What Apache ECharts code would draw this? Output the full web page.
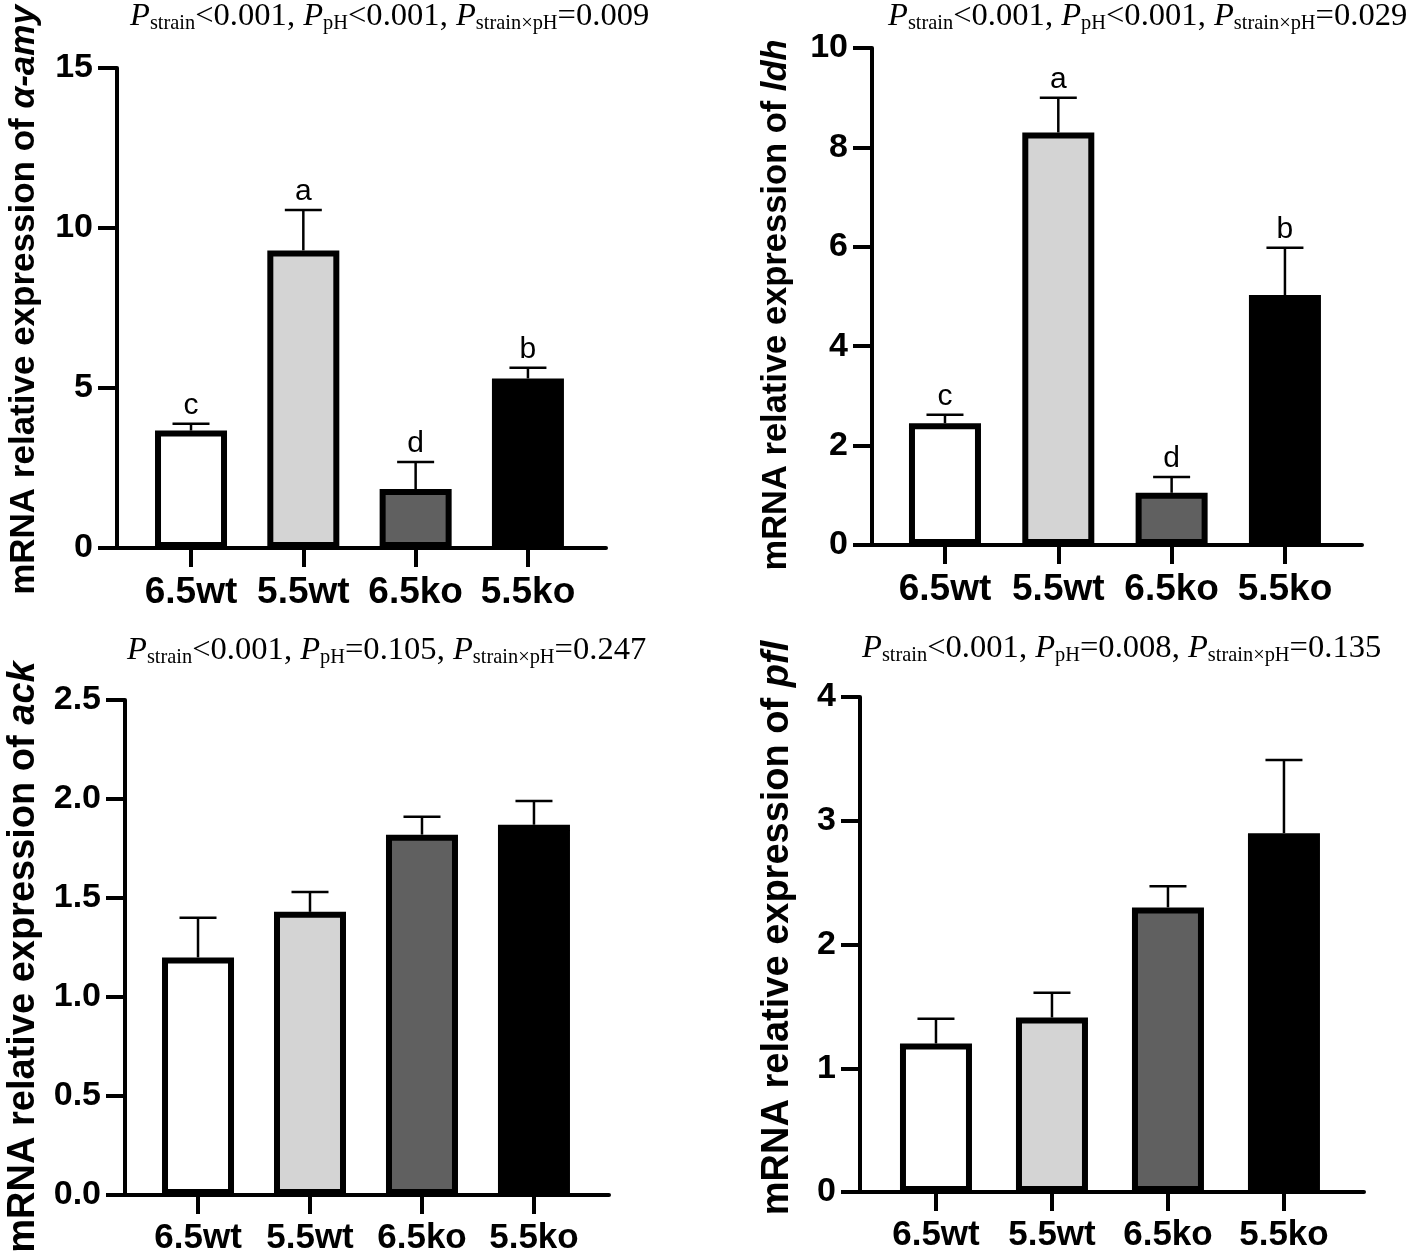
<!DOCTYPE html>
<html><head><meta charset="utf-8">
<script src="https://cdn.jsdelivr.net/npm/echarts@6/dist/echarts.min.js"></script>
<style>html,body{margin:0;padding:0;background:#fff}#c{width:1416px;height:1257px}</style>
</head><body><div id="c"></div>
<script>
// ---- data ----
const categories = ['6.5wt', '5.5wt', '6.5ko', '5.5ko'];
const barColors = ['#ffffff', '#d4d4d4', '#606060', '#000000'];

const amyMean = [3.67, 9.3, 1.84, 5.3];
const amyErr  = [3.88, 10.56, 2.69, 5.63];
const amyLetters = ['c', 'a', 'd', 'b'];

const ldhMean = [2.45, 8.3, 1.05, 5.03];
const ldhErr  = [2.62, 9.00, 1.37, 5.98];
const ldhLetters = ['c', 'a', 'd', 'b'];

const ackMean = [1.20, 1.43, 1.82, 1.87];
const ackErr  = [1.40, 1.53, 1.91, 1.99];

const pflMean = [1.20, 1.41, 2.30, 2.90];
const pflErr  = [1.40, 1.61, 2.47, 3.49];

const genes = ['α-amy', 'ldh', 'ack', 'pfl'];
const pStrain = ['<0.001', '<0.001', '<0.001', '<0.001'];
const pPH = ['<0.001', '<0.001', '=0.105', '=0.008'];
const pInter = ['=0.009', '=0.029', '=0.247', '=0.135'];

const yMax = [15, 10, 2.5, 4];
const yStep = [5, 2, 0.5, 1];

// ---- layout ----
const panels = [
  { mean: amyMean, err: amyErr, letters: amyLetters, grid: { left: 117, top: 68, width: 489, height: 480 },
    xmin: -0.659, xmax: 3.695, tx: 130, ty: 0, nx: 24, ny: 300, nfs: 35, xfs: 37, dec: 0 },
  { mean: ldhMean, err: ldhErr, letters: ldhLetters, grid: { left: 872, top: 48, width: 490, height: 497 },
    xmin: -0.644, xmax: 3.68, tx: 888, ty: 0, nx: 776, ny: 305, nfs: 34.5, xfs: 37, dec: 0 },
  { mean: ackMean, err: ackErr, letters: null, grid: { left: 125, top: 700, width: 484, height: 495 },
    xmin: -0.652, xmax: 3.67, tx: 127, ty: 634, nx: 24, ny: 957, nfs: 38, xfs: 35, dec: 1 },
  { mean: pflMean, err: pflErr, letters: null, grid: { left: 860, top: 697, width: 504, height: 495 },
    xmin: -0.655, xmax: 3.69, tx: 862, ty: 632, nx: 778, ny: 928, nfs: 38, xfs: 35, dec: 0 }
];

const SANS = 'Liberation Sans';
const SERIF = 'Liberation Serif';

const titleRich = {
  p: { fontFamily: SERIF, fontStyle: 'italic', fontWeight: 'normal', fontSize: 32.6, lineHeight: 28, verticalAlign: 'top', color: '#000' },
  n: { fontFamily: SERIF, fontWeight: 'normal', fontSize: 32.6, lineHeight: 28, verticalAlign: 'top', color: '#000' },
  s: { fontFamily: SERIF, fontWeight: 'normal', fontSize: 20.4, lineHeight: 20, padding: [14, 0, 0, 0], verticalAlign: 'top', color: '#000' }
};

function titleText(i) {
  return '{p|P}{s|strain}{n|' + pStrain[i] + ', }{p|P}{s|pH}{n|' + pPH[i] + ', }{p|P}{s|strain×pH}{n|' + pInter[i] + '}';
}

const option = {
  backgroundColor: '#fff',
  animation: false,
  title: panels.map((p, i) => ({
    text: titleText(i), left: p.tx, top: p.ty, padding: 0,
    textStyle: { fontWeight: 'normal', rich: titleRich }
  })),
  grid: panels.map(p => Object.assign({ containLabel: false }, p.grid)),
  xAxis: panels.map((p, i) => ({
    type: 'value', gridIndex: i, min: p.xmin, max: p.xmax,
    splitLine: { show: false },
    axisLine: { show: true, onZero: false, lineStyle: { color: '#000', width: 4 } },
    axisTick: { show: true, customValues: [0, 1, 2, 3], length: 19, lineStyle: { color: '#000', width: 4 } },
    axisLabel: { show: true, customValues: [0, 1, 2, 3], margin: 26,
      formatter: v => categories[Math.round(v)],
      fontFamily: SANS, fontWeight: 'bold', fontSize: p.xfs, color: '#000' }
  })),
  yAxis: panels.map((p, i) => ({
    type: 'value', gridIndex: i, min: 0, max: yMax[i], interval: yStep[i],
    splitLine: { show: false },
    axisLine: { show: true, onZero: false, lineStyle: { color: '#000', width: 4 } },
    axisTick: { show: true, length: 19, lineStyle: { color: '#000', width: 4 } },
    axisLabel: { margin: 24, fontFamily: SANS, fontWeight: 'bold', fontSize: 34, color: '#000',
      formatter: v => v.toFixed(p.dec) }
  })),
  graphic: panels.map((p, i) => ({
    type: 'text', x: p.nx, y: p.ny, rotation: Math.PI / 2,
    style: {
      text: '{a|mRNA relative expression of }{b|' + genes[i] + '}',
      rich: {
        a: { fontSize: p.nfs, fontWeight: 'bold', fontFamily: SANS, fill: '#000' },
        b: { fontSize: p.nfs, fontWeight: 'bold', fontStyle: 'italic', fontFamily: SANS, fill: '#000' }
      },
      align: 'center', verticalAlign: 'middle'
    }
  })),
  series: []
};

panels.forEach((p, i) => {
  option.series.push({
    type: 'bar', xAxisIndex: i, yAxisIndex: i, barWidth: 72, z: 3,
    itemStyle: { borderColor: '#000', borderWidth: 6 },
    data: categories.map((c, k) => ({ value: [k, p.mean[k]], itemStyle: { color: barColors[k] } }))
  });
  const letters = p.letters;
  option.series.push({
    type: 'custom', xAxisIndex: i, yAxisIndex: i, z: 4,
    data: categories.map((c, k) => [k, p.mean[k], p.err[k]]),
    renderItem: function (params, api) {
      const x = api.value(0), m = api.value(1), e = api.value(2);
      const p0 = api.coord([x, m]);
      const p1 = api.coord([x, e]);
      const children = [
        { type: 'line', shape: { x1: p0[0], y1: p0[1], x2: p1[0], y2: p1[1] }, style: { stroke: '#000', lineWidth: 2.5 } },
        { type: 'line', shape: { x1: p1[0] - 18.5, y1: p1[1], x2: p1[0] + 18.5, y2: p1[1] }, style: { stroke: '#000', lineWidth: 2.5 } }
      ];
      if (letters) {
        children.push({ type: 'text', x: p1[0], y: p1[1] - 3,
          style: { text: letters[params.dataIndex], fontSize: 30, fontFamily: SANS, fill: '#000', align: 'center', verticalAlign: 'bottom' } });
      }
      return { type: 'group', children: children };
    }
  });
});

const chart = echarts.init(document.getElementById('c'));
chart.setOption(option);
</script>
</body></html>
